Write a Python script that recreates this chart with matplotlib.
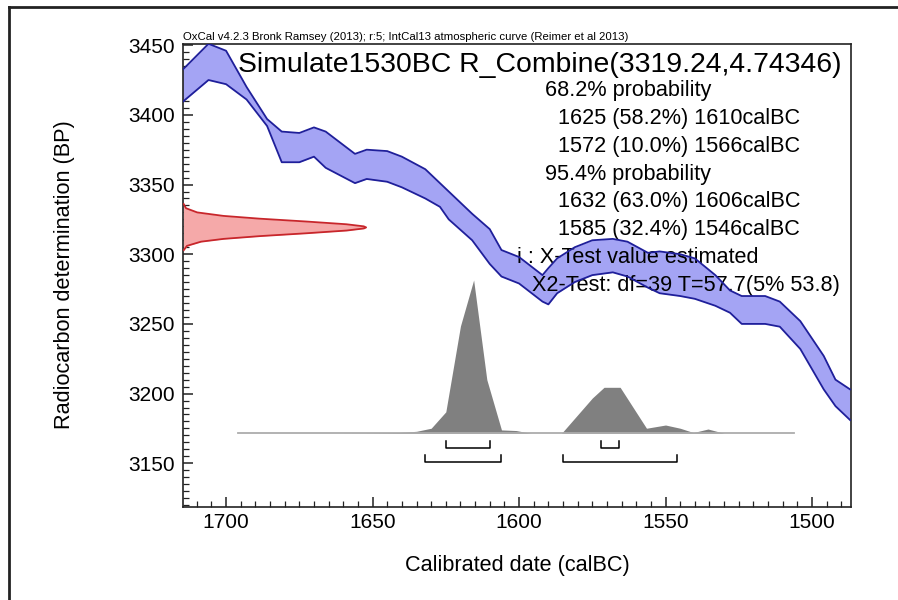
import numpy as np
import matplotlib
matplotlib.use("Agg")
import matplotlib.pyplot as plt
from matplotlib.ticker import MultipleLocator

plt.rcParams['font.family'] = ['Liberation Sans', 'DejaVu Sans']

# calibration curve band (IntCal13)
cal_year = [1715, 1706, 1700, 1693, 1686, 1681, 1675, 1670, 1666, 1656, 1652, 1645,
            1640, 1632, 1627, 1624, 1616, 1610, 1606, 1600, 1592, 1590, 1587, 1581,
            1575, 1568, 1563, 1556, 1552, 1545, 1540, 1533, 1528, 1524, 1516, 1511,
            1504, 1496, 1492, 1487]
cal_upper = [3432, 3451, 3446, 3420, 3397, 3388, 3387, 3391, 3388, 3372, 3375, 3374,
             3370, 3361, 3351, 3345, 3329, 3318, 3303, 3298, 3285, 3290, 3297, 3305,
             3310, 3311, 3309, 3301, 3302, 3300, 3297, 3285, 3274, 3270, 3270, 3266,
             3252, 3227, 3210, 3203]
cal_lower = [3409, 3425, 3422, 3411, 3392, 3366, 3366, 3370, 3362, 3351, 3354, 3352,
             3348, 3340, 3334, 3325, 3310, 3293, 3284, 3279, 3266, 3264, 3272, 3280,
             3285, 3287, 3284, 3276, 3272, 3270, 3268, 3263, 3258, 3250, 3250, 3248,
             3232, 3203, 3191, 3181]

# radiocarbon date R_Combine(3319.24, 4.74346) shown on the y axis
r_bp = [3303, 3306, 3309, 3311, 3313, 3315, 3317, 3318.5, 3319.24, 3320, 3321.5,
        3323.5, 3325.5, 3327.5, 3330, 3333, 3336]
r_prob = [0.003, 0.020, 0.097, 0.22, 0.42, 0.67, 0.894, 0.988, 1.0, 0.987, 0.892,
          0.668, 0.418, 0.219, 0.076, 0.015, 0.002]

# calibrated (posterior) distribution
post_year = [1696, 1660, 1650, 1641, 1635, 1630, 1625, 1620, 1615.5, 1611, 1606, 1601,
             1596, 1585.5, 1575, 1571, 1565.5, 1556.5, 1550, 1545, 1540.5, 1535.5,
             1530, 1520, 1506]
post_prob = [0, 0, 0.002, 0.005, 0.013, 0.033, 0.14, 0.70, 1.0, 0.35, 0.022, 0.018,
             0, 0, 0.23, 0.30, 0.30, 0.033, 0.054, 0.033, 0.005, 0.028, 0, 0, 0]

# highest probability ranges
range68 = [(1625, 1610), (1572, 1566)]
range95 = [(1632, 1606), (1585, 1546)]

header = "OxCal v4.2.3 Bronk Ramsey (2013); r:5; IntCal13 atmospheric curve (Reimer et al 2013)"
title = "Simulate1530BC R_Combine(3319.24,4.74346)"
stat_lines = ["68.2% probability",
              "1625 (58.2%) 1610calBC",
              "1572 (10.0%) 1566calBC",
              "95.4% probability",
              "1632 (63.0%) 1606calBC",
              "1585 (32.4%) 1546calBC",
              "i : X-Test value estimated",
              "X2-Test: df=39 T=57.7(5% 53.8)"]
stat_x = [545, 558, 558, 545, 558, 558, 517, 532]

W, H = 898, 600
x_left, x_right = 1714.6, 1486.8
y_bot, y_top = 3118.4, 3451.2

fig = plt.figure(figsize=(W / 100, H / 100), dpi=100)
ax = fig.add_axes([183.3 / W, 1 - 507.3 / H, 667.4 / W, 463.8 / H])

# calibration band (fill under the text, outline over it)
ax.fill_between(cal_year, cal_lower, cal_upper, color='#a4a4f4', lw=0, zorder=2)
ax.plot(cal_year, cal_upper, color='#1f1f9a', lw=1.3, zorder=4)
ax.plot(cal_year, cal_lower, color='#1f1f9a', lw=1.3, zorder=4)

# radiocarbon date on the y axis
r_prob = np.array(r_prob)
ax.fill_betweenx(r_bp, x_left, x_left - r_prob * 62.4, color='#f5a9a9', lw=0, zorder=2)
ax.plot(x_left - r_prob * 62.4, r_bp, color='#c8262b', lw=1.3, zorder=3)

# posterior distribution
base = 3171.5
post_prob = np.array(post_prob)
ax.fill_between(post_year, base, base + post_prob * 110, color='#808080', lw=0, zorder=2)
ax.plot([post_year[0], post_year[-1]], [base, base], color='#acacac', lw=1.3, zorder=2)

# range brackets
for (a, b) in range68:
    ax.plot([a, a, b, b], [3166, 3160.8, 3160.8, 3166], color='black', lw=1.1, zorder=3)
for (a, b) in range95:
    ax.plot([a, a, b, b], [3156, 3151, 3151, 3156], color='black', lw=1.1, zorder=3)

ax.set_xlim(x_left, x_right)
ax.set_ylim(y_bot, y_top)
ax.xaxis.set_major_locator(MultipleLocator(50))
ax.xaxis.set_minor_locator(MultipleLocator(5))
ax.yaxis.set_major_locator(MultipleLocator(50))
ax.yaxis.set_minor_locator(MultipleLocator(5))
ax.tick_params(which='both', direction='in', top=False, right=False, labelsize=15,
               color='#222222')
ax.tick_params(which='major', length=7.5, width=1.1)
ax.tick_params(which='minor', length=4.2, width=0.9)
ax.tick_params(axis='y', pad=6)
ax.tick_params(axis='x', pad=4)
for s in ax.spines.values():
    s.set_linewidth(1.2)
    s.set_color('#222222')

# texts
fig.text(183.3 / W, 1 - 36.7 / H, header, fontsize=8.2, ha='left', va='center')
ax.text(238.3 / W, 1 - 64.5 / H, title, transform=fig.transFigure, fontsize=20.4,
        ha='left', va='center', zorder=3)
for i, line in enumerate(stat_lines):
    ax.text(stat_x[i] / W, 1 - (90.7 + 27.8 * i) / H, line, transform=fig.transFigure,
            fontsize=15.6, ha='left', va='center', zorder=3)

fig.text(517 / W, 1 - 565 / H, "Calibrated date (calBC)", fontsize=15.6,
         ha='center', va='center')
fig.text(65 / W, 1 - 275 / H, "Radiocarbon determination (BP)", fontsize=15.6,
         ha='center', va='center', rotation=90)

# frame around the figure (left and top edges)
fig.add_artist(plt.Line2D([9 / W, 9 / W], [0, 1 - 7 / H], transform=fig.transFigure,
                          color='#222222', lw=2))
fig.add_artist(plt.Line2D([9 / W, 1], [1 - 7 / H, 1 - 7 / H], transform=fig.transFigure,
                          color='#222222', lw=2))

fig.savefig("out.png", dpi=100)
